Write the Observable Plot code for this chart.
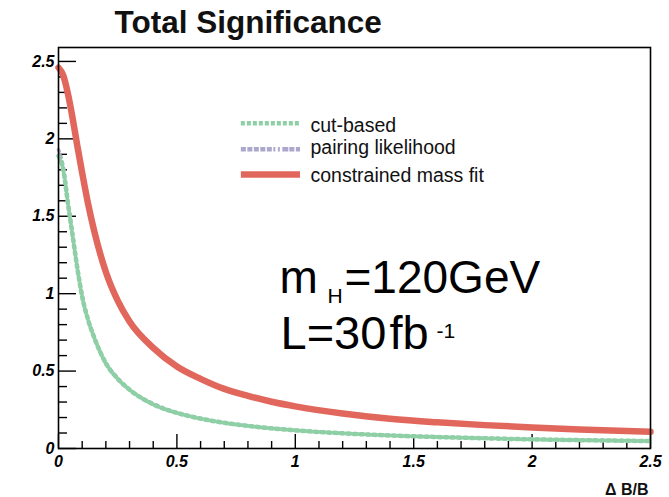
<!DOCTYPE html>
<html>
<head>
<meta charset="utf-8">
<script src="https://cdn.jsdelivr.net/npm/d3@7"></script>
<script src="https://cdn.jsdelivr.net/npm/@observablehq/plot@0.6"></script>
<style>
  body { margin: 0; background: #fff; }
  #chart svg { display: block; }
</style>
</head>
<body>
<div id="chart"></div>
<script>
// Relative background uncertainty ΔB/B (shared sampling for all curves)
const deltaBoverB = [0, 0.02, 0.04, 0.06, 0.08, 0.1, 0.125, 0.15, 0.2, 0.25, 0.3, 0.4, 0.5,
  0.6, 0.7, 0.8, 0.9, 1.0, 1.2, 1.4, 1.6, 1.8, 2.0, 2.2, 2.5];

// Total significance per analysis
const cutBased = [1.89, 1.80, 1.58, 1.37, 1.16, 0.98, 0.83, 0.72, 0.55, 0.45, 0.38, 0.285, 0.23,
  0.193, 0.166, 0.146, 0.13, 0.117, 0.098, 0.084, 0.074, 0.066, 0.059, 0.054, 0.048];
const pairingLikelihood = [1.93, 1.82, 1.60, 1.38, 1.17, 0.99, 0.835, 0.72, 0.555, 0.455, 0.38, 0.29, 0.232,
  0.195, 0.168, 0.147, 0.131, 0.118, 0.099, 0.085, 0.075, 0.067, 0.06, 0.055, 0.049];
const massFit = [2.46, 2.41, 2.29, 2.13, 1.95, 1.78, 1.58, 1.41, 1.14, 0.955, 0.82, 0.65, 0.53,
  0.45, 0.385, 0.34, 0.302, 0.272, 0.226, 0.192, 0.169, 0.151, 0.136, 0.123, 0.108];

const seriesLabels = ["cut-based", "pairing likelihood", "constrained mass fit"];

// Axis ticks
const xMajorTicks = [0, 0.5, 1, 1.5, 2, 2.5];
const xMinorTicks = [0.1, 0.2, 0.3, 0.4, 0.6, 0.7, 0.8, 0.9, 1.1, 1.2, 1.3, 1.4,
  1.6, 1.7, 1.8, 1.9, 2.1, 2.2, 2.3, 2.4];
const yMajorTicks = [0, 0.5, 1, 1.5, 2, 2.5];
const yMinorTicks = [0.1, 0.2, 0.3, 0.4, 0.6, 0.7, 0.8, 0.9, 1.1, 1.2, 1.3, 1.4,
  1.6, 1.7, 1.8, 1.9, 2.1, 2.2, 2.3, 2.4];

const width = 669, height = 497;
const margin = {top: 47, right: 19, bottom: 49, left: 58};
const innerW = width - margin.left - margin.right;
const innerH = height - margin.top - margin.bottom;

const sans = "'Liberation Sans', Arial, Helvetica, sans-serif";
const colors = {cut: "#8ecfa6", pair: "#aca8cc", fit: "#e1675c"};
const dash = {cut: "3 3.5", pair: "2 4.5"};

const rows = (ys) => deltaBoverB.map((x, i) => ({x, y: ys[i]}));

const tickLabelFont = {fontFamily: sans, fontSize: 16, fontWeight: "bold", fontStyle: "italic"};
const tickStroke = {stroke: "black", strokeWidth: 1.4};
const plain = (d) => `${d}`;

const chart = Plot.plot({
  width, height,
  marginTop: margin.top, marginRight: margin.right,
  marginBottom: margin.bottom, marginLeft: margin.left,
  style: {fontFamily: sans, background: "white", color: "black", overflow: "visible"},
  x: {domain: [0, 2.5]},
  y: {domain: [0, 2.59]},
  marks: [
    // tick labels
    Plot.axisX({ticks: xMajorTicks, tickFormat: plain, tickSize: 0, tickPadding: 7.5, label: null, ...tickLabelFont}),
    Plot.axisY({ticks: yMajorTicks, tickFormat: plain, tickSize: 0, tickPadding: 4, label: null, ...tickLabelFont}),
    // inward ticks
    Plot.tickX(xMajorTicks, {x: d => d, insetTop: innerH - 14, ...tickStroke}),
    Plot.tickX(xMinorTicks, {x: d => d, insetTop: innerH - 7, ...tickStroke}),
    Plot.tickY(yMajorTicks, {y: d => d, insetRight: innerW - 18, ...tickStroke}),
    Plot.tickY(yMinorTicks, {y: d => d, insetRight: innerW - 9, ...tickStroke}),

    // curves
    Plot.line(rows(pairingLikelihood), {x: "x", y: "y", stroke: colors.pair, strokeWidth: 3.5,
      strokeDasharray: dash.pair, curve: "monotone-x"}),
    Plot.line(rows(cutBased), {x: "x", y: "y", stroke: colors.cut, strokeWidth: 4.5,
      strokeDasharray: dash.cut, curve: "monotone-x"}),
    Plot.line(rows(massFit), {x: "x", y: "y", stroke: colors.fit, strokeWidth: 6.5, curve: "monotone-x"}),

    // legend
    Plot.link([0], {x1: 0.77, x2: 1.02, y1: 2.10, y2: 2.10, stroke: colors.cut, strokeWidth: 4.5, strokeDasharray: "4 2"}),
    Plot.link([0], {x1: 0.77, x2: 1.02, y1: 1.933, y2: 1.933, stroke: colors.pair, strokeWidth: 4.5,
      strokeDasharray: "5 1.5 5 1.5 5 1.5 5 1.5 5 1.5 2 2.5 2 2.5 6 1"}),
    Plot.link([0], {x1: 0.77, x2: 1.02, y1: 1.77, y2: 1.77, stroke: colors.fit, strokeWidth: 6.5}),
    Plot.text([seriesLabels[0]], {x: 1.064, y: 2.043, text: d => d, textAnchor: "start", lineAnchor: "bottom", fontSize: 19.5, fill: "#111"}),
    Plot.text([seriesLabels[1]], {x: 1.064, y: 1.904, text: d => d, textAnchor: "start", lineAnchor: "bottom", fontSize: 19.5, fill: "#111"}),
    Plot.text([seriesLabels[2]], {x: 1.064, y: 1.720, text: d => d, textAnchor: "start", lineAnchor: "bottom", fontSize: 19.5, fill: "#111"}),

    // frame
    Plot.frame({stroke: "black", strokeWidth: 1.6}),

    // title and axis title
    Plot.text(["Total Significance"], {frameAnchor: "top-left", text: d => d, dx: 56, dy: -15,
      textAnchor: "start", lineAnchor: "bottom", fontSize: 31.5, fontWeight: "bold", fill: "#111"}),
    Plot.text(["Δ B/B"], {frameAnchor: "bottom-right", text: d => d, dx: -2, dy: 46,
      textAnchor: "end", lineAnchor: "bottom", fontSize: 16, fontWeight: "bold", fill: "#111"}),

    // m_H = 120 GeV, L = 30 fb^-1
    Plot.text(["m"], {frameAnchor: "top-left", text: d => d, dx: 221, dy: 245, textAnchor: "start", lineAnchor: "bottom", fontSize: 46, fill: "black"}),
    Plot.text(["H"], {frameAnchor: "top-left", text: d => d, dx: 269, dy: 255, textAnchor: "start", lineAnchor: "bottom", fontSize: 21, fill: "black"}),
    Plot.text(["=120GeV"], {frameAnchor: "top-left", text: d => d, dx: 286, dy: 245, textAnchor: "start", lineAnchor: "bottom", fontSize: 46, fill: "black"}),
    Plot.text(["L=30"], {frameAnchor: "top-left", text: d => d, dx: 222, dy: 301, textAnchor: "start", lineAnchor: "bottom", fontSize: 47, fill: "black"}),
    Plot.text(["fb"], {frameAnchor: "top-left", text: d => d, dx: 331, dy: 301, textAnchor: "start", lineAnchor: "bottom", fontSize: 47, fill: "black"}),
    Plot.text(["-1"], {frameAnchor: "top-left", text: d => d, dx: 378, dy: 290, textAnchor: "start", lineAnchor: "bottom", fontSize: 21, fill: "black"})
  ]
});

document.getElementById("chart").appendChild(chart);
</script>
</body>
</html>
